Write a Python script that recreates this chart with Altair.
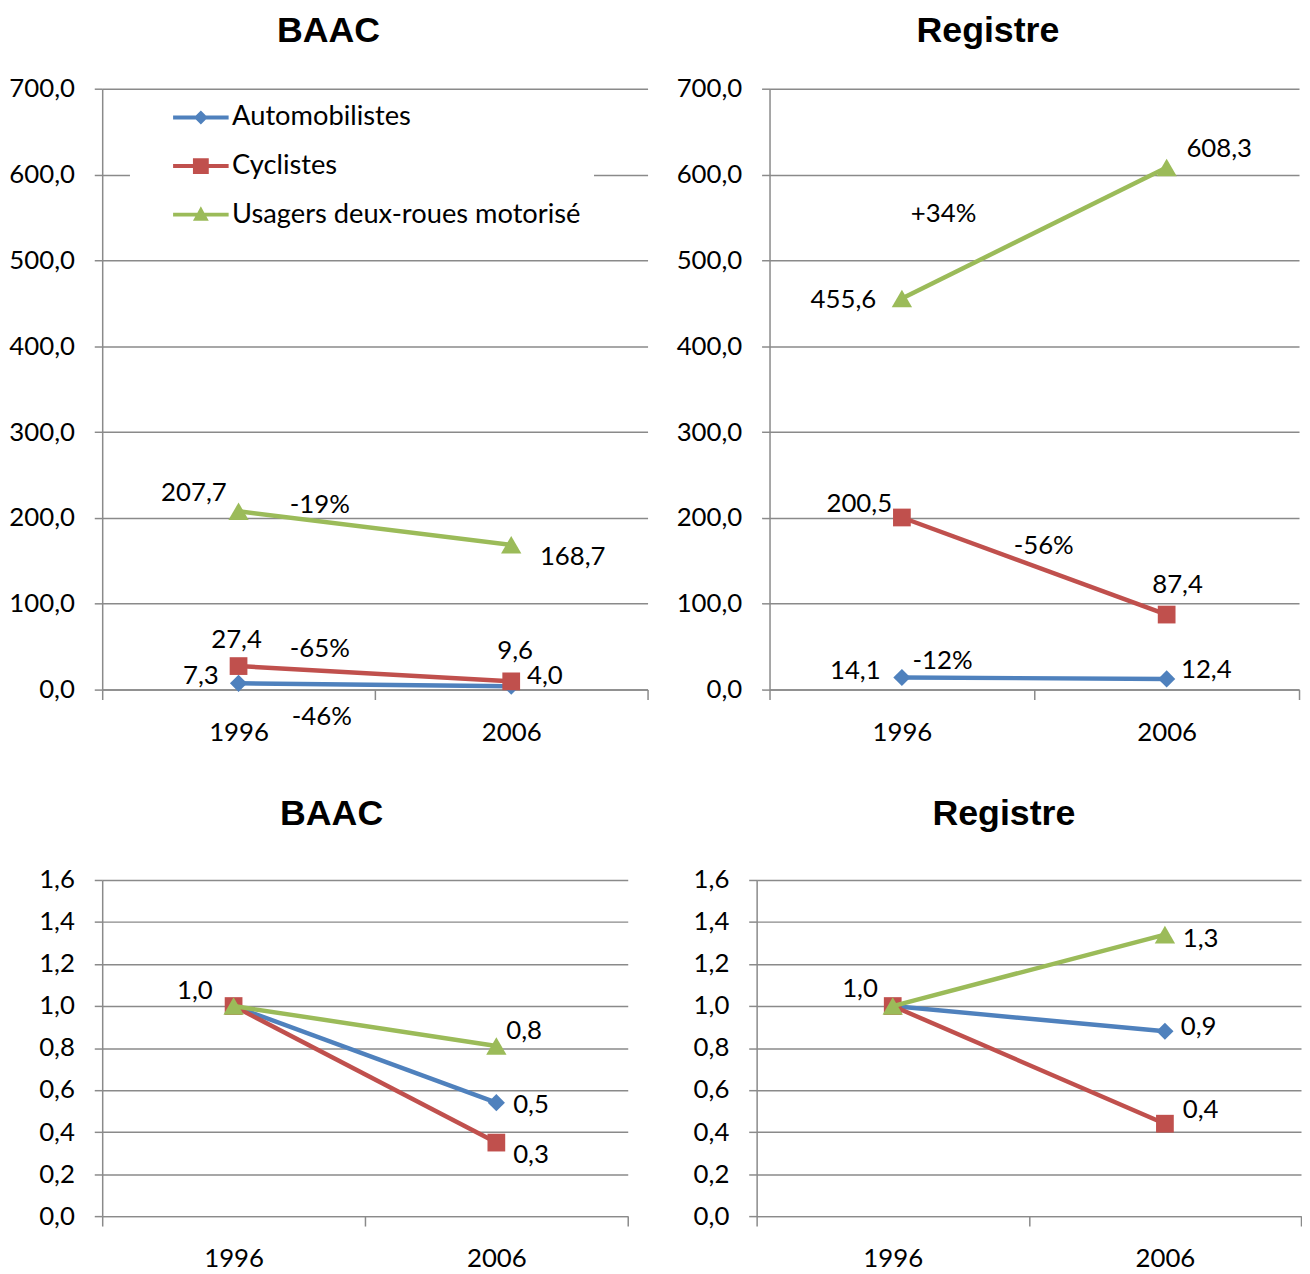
import altair as alt
import pandas as pd

# ---------------- data ----------------
years = ["1996", "2006"]
series = ["Automobilistes", "Cyclistes", "Usagers deux-roues motorisé"]
colors = ["#4F81BD", "#C0504D", "#9BBB59"]

baac_auto = [7.3, 4.0]
baac_cycl = [27.4, 9.6]
baac_2rm = [207.7, 168.7]

reg_auto = [14.1, 12.4]
reg_cycl = [200.5, 87.4]
reg_2rm = [455.6, 608.3]

baac_auto_idx = [1.0, 0.54]
baac_cycl_idx = [1.0, 0.35]
baac_2rm_idx = [1.0, 0.81]

reg_auto_idx = [1.0, 0.88]
reg_cycl_idx = [1.0, 0.44]
reg_2rm_idx = [1.0, 1.34]

baac_pct = ["-46%", "-65%", "-19%"]
reg_pct = ["-12%", "-56%", "+34%"]

abs_ticks = [0, 100, 200, 300, 400, 500, 600, 700]
idx_ticks = [0.0, 0.2, 0.4, 0.6, 0.8, 1.0, 1.2, 1.4, 1.6]

# ---------------- styles ----------------
FONT = "Lato"
TITLE_FONT = "Liberation Sans"
FS = 26
GRID = "#8a8a8a"
shapes = ["diamond", "square", "triangle-up"]
marker_sizes = [300, 320, 420]
# legend symbols: line + marker, drawn at scale 14 px per unit
legend_paths = [
    "M-2,-0.14L-0.36,-0.14L0,-0.5L0.36,-0.14L2,-0.14L2,0.14L0.36,0.14L0,0.5L-0.36,0.14L-2,0.14Z",
    "M-2,-0.14L-0.57,-0.14L-0.57,-0.57L0.57,-0.57L0.57,-0.14L2,-0.14L2,0.14L0.57,0.14L0.57,0.57L-0.57,0.57L-0.57,0.14L-2,0.14Z",
    "M-2,-0.14L-0.25,-0.14L0,-0.6L0.25,-0.14L2,-0.14L2,0.14L0.4,0.14L0.57,0.44L-0.57,0.44L-0.4,0.14L-2,0.14Z",
]
LEGEND = dict(title=None, orient="none", legendX=28, legendY=2, fillColor="white",
              padding=13, rowPadding=21, symbolOffset=44.5, symbolSize=784,
              symbolStrokeWidth=0, labelFont=FONT, labelFontSize=27.5, labelColor="black",
              labelOffset=17.5, labelLimit=600)


def fmt(v):
    return f"{v:.1f}".replace(".", ",")


def make_df(lists):
    rows = []
    for si, vals in enumerate(lists):
        for yi, v in enumerate(vals):
            rows.append({"series": series[si], "year": years[yi], "value": v, "label": fmt(v)})
    return pd.DataFrame(rows)


cscale = alt.Scale(domain=series, range=colors)


def panel(df, title, width, height, ydom, yvals, min_extent, labels, pcts, pct_texts,
          title_offset, title_dx=0, legend=False):
    leg = alt.Legend(**LEGEND) if legend else None
    xaxis = alt.Axis(tickBand="extent", labelAngle=0, grid=False, title=None,
                     tickSize=10, tickColor=GRID, tickWidth=1.5, domainColor=GRID,
                     domainWidth=1.5, labelFont=FONT, labelFontSize=FS, labelColor="black",
                     labelPadding=20)
    yaxis = alt.Axis(values=yvals, format=".1f", labelExpr="replace(datum.label, '.', ',')",
                     grid=True, gridColor=GRID, gridWidth=1.5, tickSize=8, tickColor=GRID,
                     tickWidth=1.5, domainColor=GRID, domainWidth=1.5, labelFont=FONT,
                     labelFontSize=FS, labelColor="black", labelPadding=20,
                     minExtent=min_extent, title=None)
    base = alt.Chart(df).encode(
        x=alt.X("year:N", sort=years, bandPosition=0.5,
                scale=alt.Scale(type="band", domain=years, paddingInner=0, paddingOuter=0),
                axis=xaxis),
        y=alt.Y("value:Q", scale=alt.Scale(domain=ydom, nice=False, zero=False), axis=yaxis),
    )
    color = alt.Color("series:N", scale=cscale, legend=leg)
    layers = []
    for si, s in enumerate(series):
        sub = base.transform_filter(alt.datum.series == s)
        layers.append(sub.mark_line(strokeWidth=4.5).encode(color=color))
        layers.append(sub.mark_point(shape=shapes[si], filled=True, size=marker_sizes[si],
                                     opacity=1, strokeWidth=0).encode(color=color))
    if legend:
        layers.append(
            base.transform_filter("false").mark_point(filled=True, opacity=1).encode(
                color=color,
                shape=alt.Shape("series:N", scale=alt.Scale(domain=series, range=legend_paths),
                                legend=alt.Legend(**LEGEND))))
    for si, yi, dx, dy in labels:
        layers.append(
            base.transform_filter((alt.datum.series == series[si]) & (alt.datum.year == years[yi]))
            .mark_text(font=FONT, fontSize=FS, color="black", align="center", baseline="middle",
                       dx=dx, dy=dy)
            .encode(text="label:N"))
    for si, dx, dy in pcts:
        layers.append(
            base.transform_filter((alt.datum.series == series[si]) & (alt.datum.year == years[0]))
            .mark_text(text=pct_texts[si], font=FONT, fontSize=FS, color="black",
                       align="center", baseline="middle", dx=dx, dy=dy))
    return alt.layer(*layers).properties(
        width=width, height=height,
        title=alt.Title(title, font=TITLE_FONT, fontSize=36, fontWeight="bold", color="black",
                        anchor="middle", frame="bounds", offset=title_offset, dx=title_dx))


df_tl = make_df([baac_auto, baac_cycl, baac_2rm])
df_tr = make_df([reg_auto, reg_cycl, reg_2rm])
df_bl = make_df([baac_auto_idx, baac_cycl_idx, baac_2rm_idx])
df_br = make_df([reg_auto_idx, reg_cycl_idx, reg_2rm_idx])

tl = panel(df_tl, "BAAC", 550, 606, [0, 700], abs_ticks, 93,
           [(0, 0, -38, -7), (0, 1, 34, -10), (1, 0, -2, -26), (1, 1, 4, -31),
            (2, 0, -45, -18), (2, 1, 62, 12)],
           [(2, 82, -6), (1, 82, -17), (0, 84, 34)], baac_pct, 26, legend=True)
tr = panel(df_tr, "Registre", 534, 606, [0, 700], abs_ticks, 93,
           [(0, 0, -47, -6), (0, 1, 40, -9), (1, 0, -43, -14), (1, 1, 11, -30),
            (2, 0, -59, 2), (2, 1, 53, -19)],
           [(2, 42, -85), (1, 143, 29), (0, 41, -17)], reg_pct, 26)
bl = panel(df_bl, "BAAC", 530, 339, [0, 1.6], idx_ticks, 77,
           [(2, 0, -39, -15), (2, 1, 28, -15), (0, 1, 35, 2), (1, 1, 35, 13)],
           [], baac_pct, 34, title_dx=4.5)
br = panel(df_br, "Registre", 549, 339, [0, 1.6], idx_ticks, 82,
           [(2, 0, -33, -17), (2, 1, 36, 5), (0, 1, 34, -4), (1, 1, 36, -14)],
           [], reg_pct, 34, title_dx=15.5)

chart = alt.concat(
    tl, tr, bl, br, columns=2, align="none", spacing={"row": 52, "column": 27}
).resolve_scale(
    color="independent", shape="independent"
).properties(
    padding={"left": 0, "top": 0, "right": 0, "bottom": 0}
).configure_view(strokeWidth=0)

chart.save("out.html", embed_options={"renderer": "svg", "actions": False})
